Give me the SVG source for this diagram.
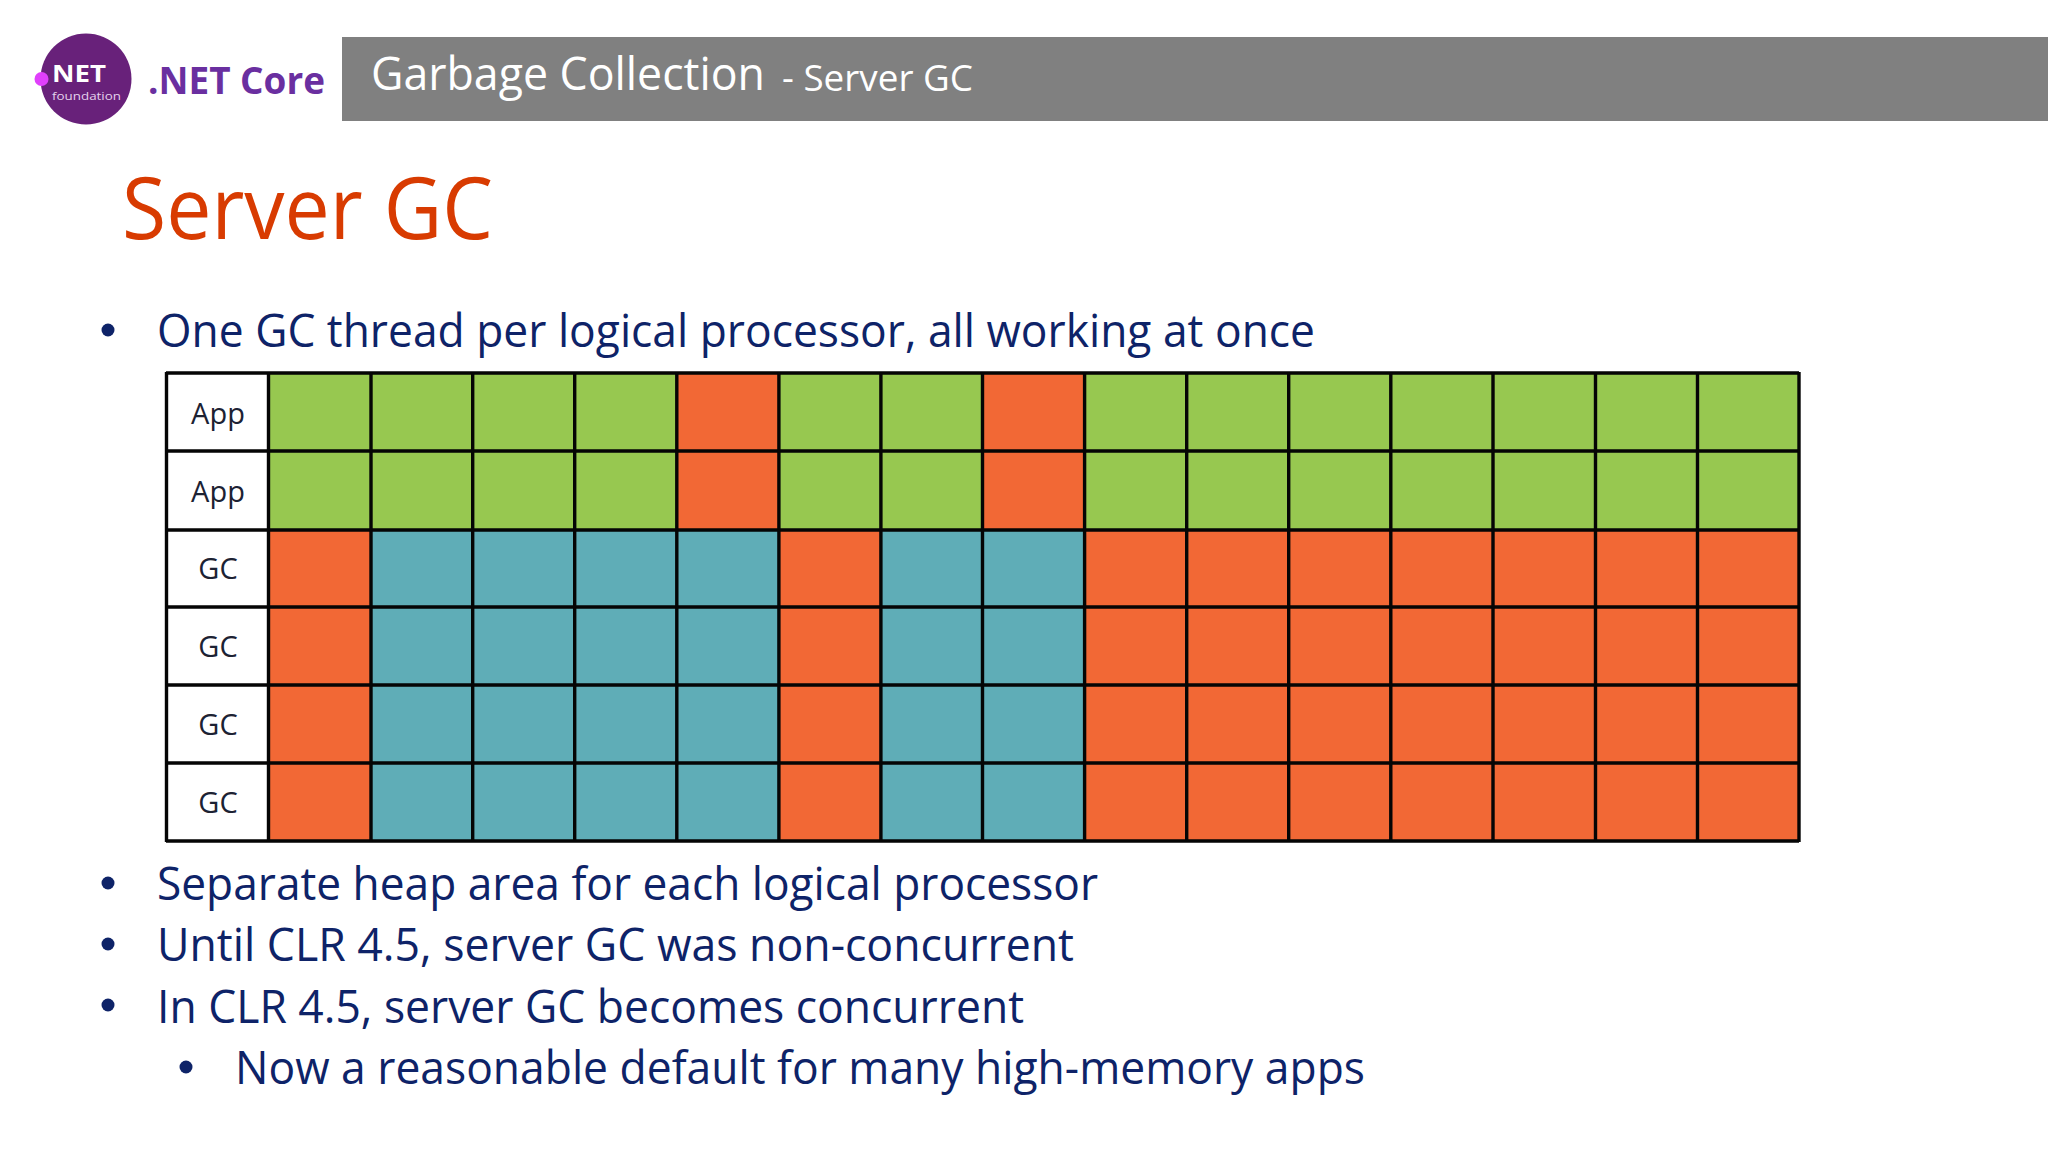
<svg xmlns="http://www.w3.org/2000/svg" width="2048" height="1152" viewBox="0 0 2048 1152">
<style>
text{font-family:"Open Sans","Noto Sans","Liberation Sans",sans-serif}
.g{fill:#97C850}.o{fill:#F26835}.t{fill:#5FADB7}
.b{fill:#0E2368;font-size:46px}
.l{fill:#1c2233;font-size:29px;text-anchor:middle}
.ln{stroke:#050505;stroke-width:3.4;fill:none}
.d{fill:#0E2368}
</style>
<rect width="2048" height="1152" fill="#fff"/>
<g id="logo">
<ellipse cx="86" cy="79" rx="45.5" ry="45.5" fill="#68217A"/>
<circle cx="41.5" cy="79" r="7" fill="#E040FB"/>
<text x="52" y="82" font-size="24" font-weight="700" fill="#fff" textLength="54" lengthAdjust="spacingAndGlyphs">NET</text>
<text x="52" y="100" font-size="11.5" fill="#E4D2EC" textLength="69" lengthAdjust="spacingAndGlyphs">foundation</text>
<text x="148" y="94" font-size="38" font-weight="700" fill="#6A2FA0" textLength="177" lengthAdjust="spacingAndGlyphs">.NET Core</text>
</g>
<g id="header">
<rect x="342" y="37" width="1706" height="84" fill="#808080"/>
<text x="371" y="90" font-size="45" fill="#fff" textLength="394" lengthAdjust="spacingAndGlyphs">Garbage Collection</text>
<text x="782" y="91" font-size="36" fill="#fff" textLength="191" lengthAdjust="spacingAndGlyphs">- Server GC</text>
</g>
<text id="title" x="122" y="239" font-size="86" fill="#D83B01" textLength="371" lengthAdjust="spacingAndGlyphs">Server GC</text>
<g id="bullets-top">
<circle class="d" cx="108" cy="330" r="6.5"/>
<text class="b" x="157" y="347" textLength="1158" lengthAdjust="spacingAndGlyphs">One GC thread per logical processor, all working at once</text>
</g>
<g id="grid-cells">
<g id="row-1">
<rect x="268" y="373" width="816" height="78" class="g"/><rect x="676.2" y="373" width="102.1" height="78" class="o"/><rect x="982.4" y="373" width="102.1" height="78" class="o"/><rect x="1084" y="373" width="715" height="78" class="g"/>
</g>
<g id="row-2">
<rect x="268" y="451" width="816" height="79" class="g"/><rect x="676.2" y="451" width="102.1" height="79" class="o"/><rect x="982.4" y="451" width="102.1" height="79" class="o"/><rect x="1084" y="451" width="715" height="79" class="g"/>
</g>
<g id="row-3">
<rect x="268" y="530" width="1531" height="77" class="o"/><rect x="370.1" y="530" width="408.3" height="77" class="t"/><rect x="880.3" y="530" width="204.2" height="77" class="t"/>
</g>
<g id="row-4">
<rect x="268" y="607" width="1531" height="78" class="o"/><rect x="370.1" y="607" width="408.3" height="78" class="t"/><rect x="880.3" y="607" width="204.2" height="78" class="t"/>
</g>
<g id="row-5">
<rect x="268" y="685" width="1531" height="78" class="o"/><rect x="370.1" y="685" width="408.3" height="78" class="t"/><rect x="880.3" y="685" width="204.2" height="78" class="t"/>
</g>
<g id="row-6">
<rect x="268" y="763" width="1531" height="78" class="o"/><rect x="370.1" y="763" width="408.3" height="78" class="t"/><rect x="880.3" y="763" width="204.2" height="78" class="t"/>
</g>
</g>
<g id="connectors" class="ln">
<path d="M166 373H1799M166 451H1799M166 530H1799M166 607H1799M166 685H1799M166 763H1799M166 841H1799"/>
<path d="M166.5 372V842M268.5 372V842M371 372V842M472.7 372V842M574.7 372V842M676.8 372V842M778.9 372V842M880.9 372V842M982.5 372V842M1084.6 372V842M1186.7 372V842M1288.7 372V842M1390.8 372V842M1493 372V842M1595.5 372V842M1697.5 372V842M1799 372V842"/>
</g>
<g id="row-labels">
<text class="l" x="218" y="424">App</text>
<text class="l" x="218" y="502">App</text>
<text class="l" x="218" y="579">GC</text>
<text class="l" x="218" y="657">GC</text>
<text class="l" x="218" y="735">GC</text>
<text class="l" x="218" y="813">GC</text>
</g>
<g id="bullets-bottom">
<circle class="d" cx="108" cy="883" r="6.5"/>
<text class="b" x="157" y="900" textLength="941" lengthAdjust="spacingAndGlyphs">Separate heap area for each logical processor</text>
<circle class="d" cx="108" cy="944" r="6.5"/>
<text class="b" x="157" y="961" textLength="917" lengthAdjust="spacingAndGlyphs">Until CLR 4.5, server GC was non-concurrent</text>
<circle class="d" cx="108" cy="1005" r="6.5"/>
<text class="b" x="157" y="1023" textLength="867" lengthAdjust="spacingAndGlyphs">In CLR 4.5, server GC becomes concurrent</text>
<circle class="d" cx="186" cy="1067" r="6.5"/>
<text class="b" x="235" y="1084" textLength="1130" lengthAdjust="spacingAndGlyphs">Now a reasonable default for many high-memory apps</text>
</g>
</svg>
